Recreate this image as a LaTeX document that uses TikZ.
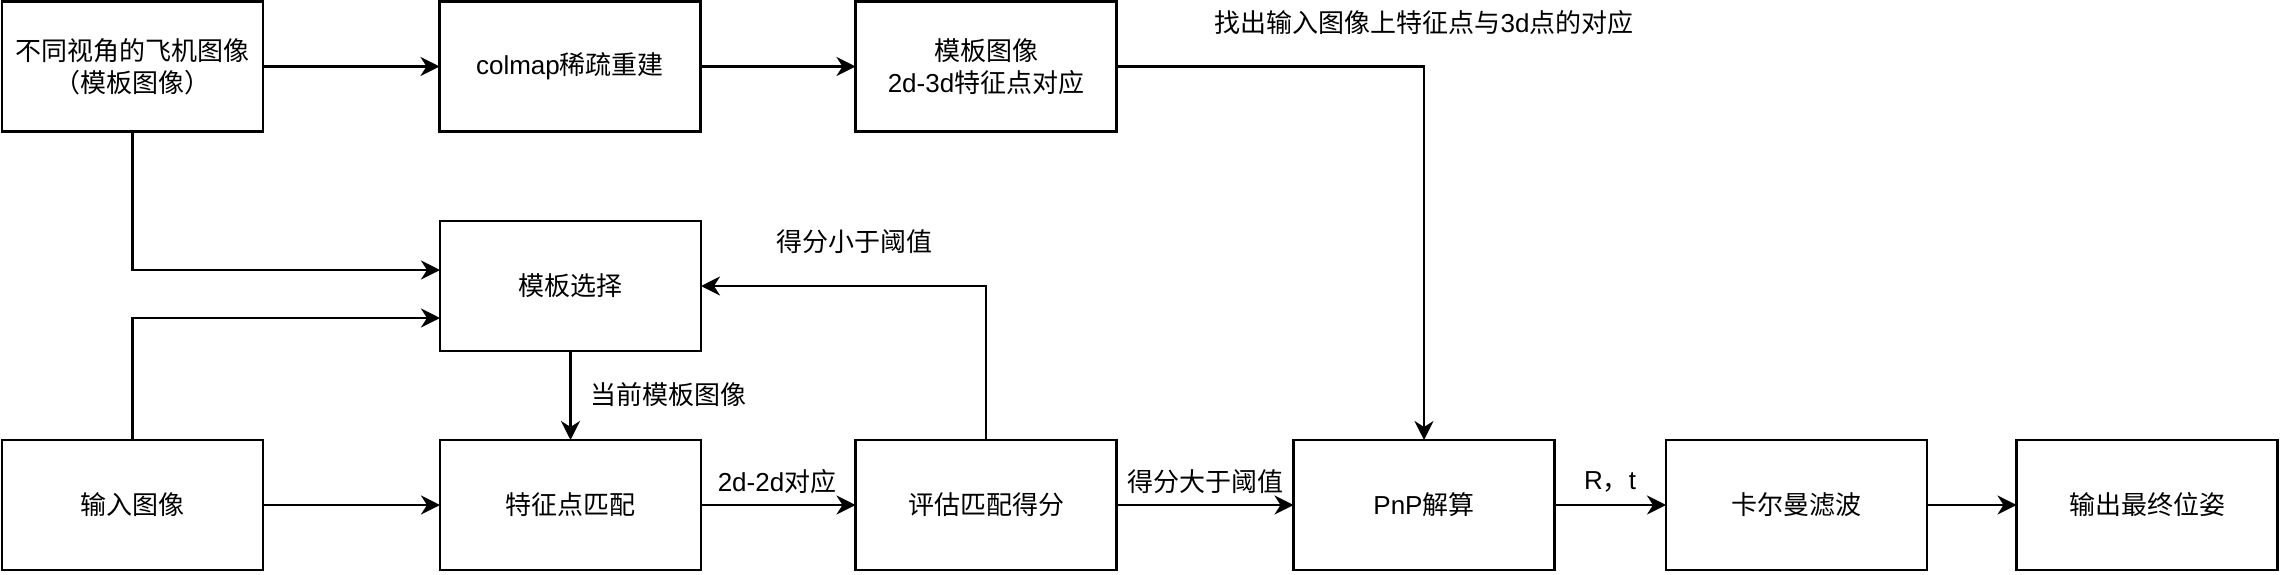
\documentclass[tikz,border=0pt]{standalone}
\usepackage{fontspec}
\setmainfont{Liberation Sans}
\newfontfamily\cjk{Noto Sans CJK SC}
\newcommand\zh[1]{{\cjk #1}}
\usetikzlibrary{arrows.meta,calc}
\begin{document}
\begin{tikzpicture}[x=1pt,y=-1pt,
  box/.style={draw, line width=2.6pt, fill=white, minimum width=261pt, minimum height=130pt, inner sep=0pt, outer sep=0pt, align=center, font=\fontsize{26}{32}\selectfont},
  conn/.style={line width=2.6pt, -{Stealth[length=19pt,width=19pt,inset=6pt]}},
  lbl/.style={font=\fontsize{26}{32}\selectfont, inner sep=0pt}
]
\useasboundingbox (0,0) rectangle (2280,574);
\node[box] (B1) at (132.5,66.5) {\zh{不同视角的飞机图像}\\\zh{（模板图像）}};
\node[box] (B2) at (570,66.5) {colmap\zh{稀疏重建}};
\node[box] (B3) at (986,66.5) {\zh{模板图像}\\2d-3d\zh{特征点对应}};
\node[box] (T) at (570.5,286) {\zh{模板选择}};
\node[box] (I) at (132.5,505) {\zh{输入图像}};
\node[box] (F) at (570.5,505) {\zh{特征点匹配}};
\node[box] (E) at (986,505) {\zh{评估匹配得分}};
\node[box] (P) at (1424,505) {PnP\zh{解算}};
\node[box] (K) at (1796.5,505) {\zh{卡尔曼滤波}};
\node[box] (O) at (2147,505) {\zh{输出最终位姿}};

\draw[conn] (B1) -- (B2);
\draw[conn] (B2) -- (B3);
\draw[conn] (B3.east) -| (P.north);
\draw[conn] (B1.south) |- ($(T.west)+(0,-16)$);
\draw[conn] (I.north) |- ($(T.west)+(0,32)$);
\draw[conn] (T) -- (F);
\draw[conn] (I) -- (F);
\draw[conn] (F) -- (E);
\draw[conn] (E.north) |- (T.east);
\draw[conn] (E) -- (P);
\draw[conn] (P) -- (K);
\draw[conn] (K) -- (O);

\node[lbl] (L1) at (1424,23) {\zh{找出输入图像上特征点与}3d\zh{点的对应}};
\node[lbl] (L2) at (668,395) {\zh{当前模板图像}};
\node[lbl] (L3) at (777,482) {2d-2d\zh{对应}};
\node[lbl] (L4) at (854,242) {\zh{得分小于阈值}};
\node[lbl] (L5) at (1205,482) {\zh{得分大于阈值}};
\node[lbl] (L6) at (1610,482) {R\zh{，}t};
\end{tikzpicture}
\end{document}
